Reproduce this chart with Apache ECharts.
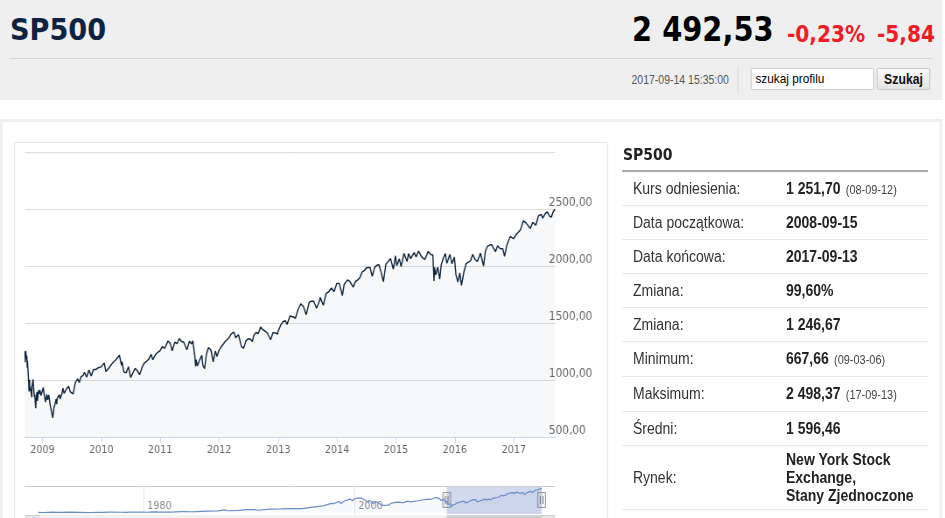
<!DOCTYPE html>
<html><head><meta charset="utf-8">
<script src="https://cdn.jsdelivr.net/npm/echarts@6/dist/echarts.min.js"></script>
<style>
html,body{margin:0;padding:0;background:#fff;width:945px;height:518px;overflow:hidden;}
#page{position:absolute;left:0;top:0;width:1080px;height:518px;transform:scaleX(0.875);transform-origin:0 0;font-family:"Liberation Sans",Arial,sans-serif;}
.abs{position:absolute;}
.big{font-family:"DejaVu Sans",sans-serif;font-weight:bold;white-space:nowrap;line-height:1.164;}
.row{position:absolute;left:0;width:100%;border-bottom:1px solid #e8e8e8;box-sizing:border-box;}
.lab{position:absolute;left:12.5px;font-size:16px;color:#333;white-space:nowrap;}
.val{position:absolute;left:187.4px;font-size:16px;color:#222;font-weight:bold;white-space:nowrap;line-height:18px;}
.note{font-size:12.5px;color:#444;font-weight:normal;margin-left:6px;}
</style></head>
<body>
<div id="page">
  <div class="abs" style="left:0;top:0;width:1077px;height:100px;background:#efefef;"></div>
  <div class="abs big" style="left:11.4px;top:11.2px;font-size:31px;color:#0e2341;">SP500</div>
  <div class="abs big" style="left:722.3px;top:11.4px;font-size:33px;color:#000;">2 492,53</div>
  <div class="abs big" style="left:899.4px;top:20.7px;font-size:23px;color:#ee1c25;">-0,23%</div>
  <div class="abs big" style="left:1002.3px;top:20.7px;font-size:23px;color:#ee1c25;">-5,84</div>
  <div class="abs" style="left:11.4px;top:58px;width:1053.7px;height:1px;background:#d5d5d5;"></div>
  <div class="abs" style="left:713px;top:72px;width:120.1px;text-align:right;font-size:12px;line-height:16px;color:#555;">2017-09-14 15:35:00</div>
  <div class="abs" style="left:843.4px;top:66px;width:1px;height:28px;background:#dcdcdc;"></div>
  <div class="abs" style="left:858.3px;top:68px;width:140.6px;height:22px;box-sizing:border-box;border:1px solid #c8c8c8;border-radius:2px;background:#fff;font-size:13.5px;line-height:20px;padding-left:4px;color:#000;">szukaj profilu</div>
  <div class="abs" style="left:1002.3px;top:68px;width:60.6px;height:22px;box-sizing:border-box;border:1px solid #c4c4c4;border-radius:2px;background:linear-gradient(#fafafa,#e2e2e2);font-size:14px;font-weight:bold;line-height:20px;text-align:center;color:#111;">Szukaj</div>

  <div class="abs" style="left:0;top:119px;width:1076.6px;height:440px;box-sizing:border-box;border:3px solid #eeeeee;"></div>
  <div class="abs" style="left:16px;top:142px;width:678.9px;height:420px;box-sizing:border-box;border:1px solid #e6e6e6;"></div>
  <div id="chart" class="abs" style="left:17px;top:143px;width:677px;height:375px;"></div>

  <div class="abs" style="left:712px;top:145px;font-family:'DejaVu Sans',sans-serif;font-weight:bold;font-size:16px;line-height:20px;color:#222;">SP500</div>
  <div class="abs" style="left:710.9px;top:170px;width:349.7px;height:2px;background:#a8a8a8;"></div>
  <div id="tbl" class="abs" style="left:710.9px;top:172px;width:349.7px;height:340px;"></div>
</div>
<script>
// ---- data ----
const infoLabels = ['Kurs odniesienia:','Data początkowa:','Data końcowa:','Zmiana:','Zmiana:','Minimum:','Maksimum:','Średni:','Rynek:'];
const infoValues = ['1 251,70','2008-09-15','2017-09-13','99,60%','1 246,67','667,66','2 498,37','1 596,46','New York Stock<br>Exchange,<br>Stany Zjednoczone'];
const infoNotes  = ['(08-09-12)','','','','','(09-03-06)','(17-09-13)','',''];
const rowHeights = [34,34,34,34,34,35,35,34,64];

const yearTicks = ['2009-01-01','2010-01-01','2011-01-01','2012-01-01','2013-01-01','2014-01-01','2015-01-01','2016-01-01','2017-01-01'];
const navTicks = ['1980-01-01','2000-01-01'];
const yTicks = [500,1000,1500,2000,2500,3000];
const viewStart = '2008-09-15', viewEnd = '2017-09-13';
const navMin = '1968-10-01', navMax = '2018-12-20';

const historyPoints = [
["1970-01-02",93],["1970-05-26",69],["1970-12-31",92],["1971-04-28",104],["1971-11-23",90],["1972-12-29",118],["1973-01-11",120],["1973-12-05",92],["1974-10-03",62],["1974-12-31",69],["1975-07-15",95],["1975-12-31",90],["1976-09-21",107],["1977-12-30",95],["1978-03-06",87],["1978-09-12",106],["1979-12-31",108],["1980-03-27",98],["1980-11-28",140],["1981-09-25",112],["1982-08-12",102],["1982-12-31",141],["1983-10-10",172],["1984-07-24",147],["1984-12-31",167],["1985-12-31",211],["1986-12-31",242],["1987-08-25",337],["1987-10-19",225],["1987-12-31",247],["1988-12-30",278],["1989-10-09",359],["1989-12-29",353],["1990-07-16",369],["1990-10-11",295],["1991-12-31",417],["1992-12-31",436],["1993-12-31",466],["1994-12-30",459],["1995-12-29",616],["1996-12-31",741],["1997-10-07",983],["1997-12-31",970],["1998-07-17",1187],["1998-08-31",957],["1998-12-31",1229],["1999-07-16",1419],["1999-10-15",1247],["1999-12-31",1469],["2000-03-24",1527],["2000-09-01",1521],["2000-12-20",1305],["2001-01-30",1374],["2001-04-04",1104],["2001-05-21",1312],["2001-09-21",966],["2002-01-04",1173],["2002-07-23",798],["2002-08-22",962],["2002-10-09",777],["2002-11-27",938],["2003-03-11",800],["2003-06-17",1011],["2003-12-31",1112],["2004-08-12",1064],["2004-12-31",1212],["2005-04-20",1138],["2005-12-30",1248],["2006-05-05",1325],["2006-06-13",1223],["2006-12-29",1418],["2007-02-20",1460],["2007-03-05",1374],["2007-07-19",1553],["2007-08-15",1406],["2007-10-09",1565],["2007-11-26",1407],["2007-12-31",1468],["2008-03-10",1273],["2008-05-19",1426],["2008-07-15",1214],["2008-08-11",1305],["2008-09-12",1252]
];

const sp500Points = [
["2008-09-15",1251.7],["2008-09-17",1156],["2008-09-19",1255],["2008-09-24",1186],["2008-09-26",1213],["2008-09-29",1106],["2008-09-30",1166],["2008-10-03",1099],["2008-10-07",996],["2008-10-10",899],["2008-10-13",1003],["2008-10-15",908],["2008-10-17",940],["2008-10-22",896],["2008-10-27",848],["2008-10-28",941],["2008-10-31",968],["2008-11-04",1005],["2008-11-07",930],["2008-11-12",852],["2008-11-14",873],["2008-11-20",752],["2008-11-24",852],["2008-11-28",896],["2008-12-01",816],["2008-12-08",909],["2008-12-12",879],["2008-12-16",913],["2008-12-23",863],["2008-12-31",903],
["2009-01-06",935],["2009-01-12",870],["2009-01-20",805],["2009-01-28",874],["2009-02-02",825],["2009-02-09",870],["2009-02-17",789],["2009-02-23",743],["2009-02-27",735],["2009-03-06",668],["2009-03-09",677],["2009-03-13",757],["2009-03-19",784],["2009-03-26",833],["2009-03-30",788],["2009-04-03",843],["2009-04-17",870],["2009-04-20",833],["2009-05-01",877],["2009-05-08",929],["2009-05-15",882],["2009-05-29",919],["2009-06-12",946],["2009-06-23",895],["2009-07-02",897],["2009-07-10",879],["2009-07-24",979],["2009-08-07",1010],["2009-08-17",979],["2009-08-28",1028],["2009-09-11",1042],["2009-09-18",1068],["2009-10-02",1025],["2009-10-16",1087],["2009-10-30",1036],["2009-11-13",1093],["2009-11-27",1091],["2009-12-11",1106],["2009-12-31",1115],
["2010-01-19",1150],["2010-01-29",1074],["2010-02-05",1066],["2010-02-19",1109],["2010-03-05",1138],["2010-03-19",1160],["2010-04-01",1178],["2010-04-23",1217],["2010-05-06",1128],["2010-05-10",1160],["2010-05-20",1071],["2010-06-04",1064],["2010-06-18",1117],["2010-07-02",1022],["2010-07-16",1065],["2010-07-30",1101],["2010-08-13",1079],["2010-08-26",1047],["2010-09-10",1110],["2010-09-24",1148],["2010-10-08",1165],["2010-10-22",1183],["2010-11-05",1225],["2010-11-16",1178],["2010-12-03",1224],["2010-12-17",1243],["2010-12-31",1258],
["2011-01-14",1293],["2011-01-28",1276],["2011-02-18",1343],["2011-03-04",1321],["2011-03-16",1257],["2011-04-01",1332],["2011-04-15",1319],["2011-04-29",1364],["2011-05-13",1338],["2011-05-27",1331],["2011-06-15",1265],["2011-07-01",1340],["2011-07-15",1316],["2011-07-22",1345],["2011-08-04",1200],["2011-08-08",1119],["2011-08-12",1179],["2011-08-19",1123],["2011-09-02",1174],["2011-09-16",1216],["2011-09-22",1129],["2011-09-30",1131],["2011-10-03",1099],["2011-10-14",1224],["2011-10-27",1285],["2011-11-11",1263],["2011-11-25",1159],["2011-12-09",1255],["2011-12-19",1205],["2011-12-30",1258],
["2012-01-13",1289],["2012-01-27",1316],["2012-02-10",1342],["2012-03-02",1370],["2012-03-16",1404],["2012-04-02",1419],["2012-04-13",1370],["2012-04-30",1398],["2012-05-18",1295],["2012-06-01",1278],["2012-06-15",1343],["2012-06-29",1362],["2012-07-13",1357],["2012-07-25",1338],["2012-08-03",1391],["2012-08-17",1418],["2012-08-31",1407],["2012-09-14",1466],["2012-09-28",1441],["2012-10-12",1429],["2012-10-26",1412],["2012-11-15",1353],["2012-11-30",1416],["2012-12-14",1413],["2012-12-28",1402],["2012-12-31",1426],
["2013-01-18",1486],["2013-02-01",1513],["2013-02-15",1520],["2013-02-25",1488],["2013-03-15",1561],["2013-04-05",1553],["2013-04-18",1541],["2013-05-03",1614],["2013-05-21",1669],["2013-06-07",1643],["2013-06-24",1573],["2013-07-12",1680],["2013-07-26",1691],["2013-08-09",1691],["2013-08-27",1630],["2013-09-13",1688],["2013-09-18",1725],["2013-10-08",1655],["2013-10-25",1759],["2013-11-08",1770],["2013-11-27",1807],["2013-12-13",1775],["2013-12-31",1848],
["2014-01-15",1848],["2014-02-03",1741],["2014-02-14",1838],["2014-03-07",1878],["2014-03-21",1866],["2014-04-11",1815],["2014-04-25",1863],["2014-05-09",1878],["2014-05-23",1900],["2014-06-06",1949],["2014-06-20",1962],["2014-07-03",1985],["2014-07-24",1988],["2014-08-07",1910],["2014-08-22",1988],["2014-09-05",2007],["2014-09-18",2011],["2014-10-01",1946],["2014-10-15",1862],["2014-10-31",2018],["2014-11-14",2039],["2014-11-28",2067],["2014-12-16",1972],["2014-12-29",2090],
["2015-01-06",2003],["2015-01-22",2063],["2015-02-02",1994],["2015-02-20",2110],["2015-03-02",2117],["2015-03-11",2040],["2015-03-20",2108],["2015-04-02",2066],["2015-04-24",2117],["2015-05-06",2080],["2015-05-21",2131],["2015-06-09",2080],["2015-06-29",2057],["2015-07-08",2046],["2015-07-20",2128],["2015-08-05",2100],["2015-08-18",2097],["2015-08-25",1868],["2015-08-28",1989],["2015-09-04",1921],["2015-09-17",1990],["2015-09-29",1884],["2015-10-09",2014],["2015-10-23",2075],["2015-11-03",2109],["2015-11-13",2023],["2015-12-01",2102],["2015-12-14",2021],["2015-12-29",2078],
["2016-01-08",1922],["2016-01-20",1859],["2016-02-01",1940],["2016-02-11",1829],["2016-02-26",1948],["2016-03-11",2022],["2016-03-28",2037],["2016-04-08",2048],["2016-04-20",2102],["2016-05-06",2057],["2016-05-19",2040],["2016-06-08",2112],["2016-06-27",2000],["2016-07-08",2129],["2016-07-22",2175],["2016-08-15",2190],["2016-09-09",2127],["2016-09-22",2177],["2016-10-07",2153],["2016-10-24",2151],["2016-11-04",2085],["2016-11-18",2182],["2016-12-09",2259],["2016-12-30",2239],
["2017-01-13",2274],["2017-01-27",2294],["2017-02-10",2316],["2017-03-01",2396],["2017-03-17",2378],["2017-04-13",2329],["2017-04-28",2384],["2017-05-17",2357],["2017-06-02",2439],["2017-06-19",2453],["2017-06-29",2419],["2017-07-14",2459],["2017-07-27",2475],["2017-08-10",2438],["2017-08-21",2428],["2017-08-31",2472],["2017-09-13",2498]
];

// ---- info table ----
(function(){
  const tbl = document.getElementById('tbl');
  let top = 0;
  infoLabels.forEach((lab, i) => {
    const h = rowHeights[i];
    const r = document.createElement('div');
    r.className = 'row';
    r.style.top = top + 'px';
    r.style.height = h + 'px';
    const multi = infoValues[i].indexOf('<br>') >= 0;
    const lines = multi ? 3 : 1;
    const l = document.createElement('div');
    l.className = 'lab';
    l.style.top = '0px'; l.style.lineHeight = (h - 1) + 'px';
    l.textContent = lab;
    const v = document.createElement('div');
    v.className = 'val';
    v.style.top = ((h - 1 - lines * 18) / 2) + 'px';
    v.innerHTML = infoValues[i] + (infoNotes[i] ? '<span class="note">' + infoNotes[i] + '</span>' : '');
    r.appendChild(l); r.appendChild(v);
    tbl.appendChild(r);
    top += h;
  });
})();

// ---- chart ----
const P = s => { const p = s.split('-'); return Date.UTC(+p[0], +p[1] - 1, +p[2]); };
const toXY = arr => arr.map(d => [P(d[0]), d[1]]);
const yearLabel = v => String(new Date(v).getUTCFullYear());
const chart = echarts.init(document.getElementById('chart'));
const mainData = toXY(sp500Points);
const navData = toXY(historyPoints.concat(sp500Points));
const yMaxLabel = yTicks[yTicks.length - 1];

chart.setOption({
  animation: false,
  grid: [
    {left: 11.6, right: 59.7, top: 9, height: 285},
    {left: 11.6, right: 59.7, top: 343, height: 28}
  ],
  xAxis: [
    {type: 'value', gridIndex: 0, min: P(viewStart), max: P(viewEnd), scale: true,
     axisLine: {lineStyle: {color: '#ccd6eb', width: 1}},
     axisTick: {show: true, customValues: yearTicks.map(P), length: 6, lineStyle: {color: '#ccd6eb'}},
     axisLabel: {customValues: yearTicks.map(P), formatter: yearLabel,
                 color: '#666', fontFamily: 'DejaVu Sans', fontSize: 11, margin: 8},
     splitLine: {show: false}},
    {type: 'value', gridIndex: 1, min: P(navMin), max: P(navMax), scale: true,
     axisLine: {show: false},
     axisTick: {show: false, customValues: navTicks.map(P)},
     axisLabel: {customValues: navTicks.map(P), formatter: yearLabel,
                 inside: true, margin: 2, align: 'left', verticalAlign: 'bottom', padding: [0, 0, 0, 4],
                 color: '#888', fontFamily: 'DejaVu Sans', fontSize: 11},
     splitLine: {show: true, lineStyle: {color: '#e6e6e6'}}}
  ],
  yAxis: [
    {type: 'value', gridIndex: 0, position: 'right', min: 500, max: 3000, interval: 500,
     axisLine: {show: false}, axisTick: {show: false},
     splitLine: {lineStyle: {color: '#dcdcdc'}},
     axisLabel: {margin: -7, align: 'left', verticalAlign: 'bottom', lineHeight: 12,
                 color: '#666', fontFamily: 'DejaVu Sans', fontSize: 12,
                 formatter: v => v >= yMaxLabel ? '' : v.toFixed(2).replace('.', ',')}},
    {type: 'value', gridIndex: 1, min: -80, max: 2730, show: false}
  ],
  series: [
    {type: 'line', xAxisIndex: 0, yAxisIndex: 0, data: mainData, symbol: 'none',
     lineStyle: {color: '#0d233a', width: 1.4}, areaStyle: {color: 'rgba(13,35,58,0.045)'}},
    {type: 'line', xAxisIndex: 1, yAxisIndex: 1, data: navData, symbol: 'none',
     lineStyle: {color: '#6a8cc9', width: 1.2}, areaStyle: {color: 'rgba(51,92,173,0.05)'},
     markArea: {silent: true, itemStyle: {color: 'rgba(102,133,194,0.3)'},
                data: [[{xAxis: P(viewStart)}, {xAxis: P(viewEnd)}]]}}
  ]
});

(function(){
  const px = v => chart.convertToPixel({xAxisIndex: 1}, v);
  const navTop = chart.convertToPixel({yAxisIndex: 1}, 2730);
  const navBot = chart.convertToPixel({yAxisIndex: 1}, -80);
  const left = px(P(navMin)), right = px(P(navMax));
  const x0 = px(P(viewStart)), x1 = px(P(viewEnd));
  const mid = (navTop + navBot) / 2;
  const sy = navBot + 1;
  const handle = x => ({
    type: 'group', x: x, y: mid, z: 100,
    children: [
      {type: 'rect', shape: {x: -4.5, y: -7.5, width: 9, height: 15}, style: {fill: '#f2f2f2', stroke: '#999', lineWidth: 1}},
      {type: 'line', shape: {x1: -1.5, y1: -4, x2: -1.5, y2: 4}, style: {stroke: '#777', lineWidth: 1}},
      {type: 'line', shape: {x1: 1.5, y1: -4, x2: 1.5, y2: 4}, style: {stroke: '#777', lineWidth: 1}}
    ]
  });
  chart.setOption({
    graphic: [
      {type: 'line', z: 90, shape: {x1: left, y1: navTop + 0.5, x2: right, y2: navTop + 0.5}, style: {stroke: '#cccccc', lineWidth: 1}},
      {type: 'rect', z: 90, shape: {x: left, y: sy, width: right - left, height: 14}, style: {fill: '#f2f2f2'}},
      {type: 'rect', z: 91, shape: {x: x0, y: sy, width: x1 - x0, height: 14}, style: {fill: '#cdd2da'}},
      {type: 'rect', z: 92, shape: {x: left + 0.5, y: sy + 0.5, width: 15, height: 14}, style: {fill: '#e6e6e6', stroke: '#cccccc', lineWidth: 1}},
      {type: 'rect', z: 92, shape: {x: right - 15.5, y: sy + 0.5, width: 15, height: 14}, style: {fill: '#e6e6e6', stroke: '#cccccc', lineWidth: 1}},
      handle(x0), handle(x1)
    ]
  });
})();
</script>
</body></html>
